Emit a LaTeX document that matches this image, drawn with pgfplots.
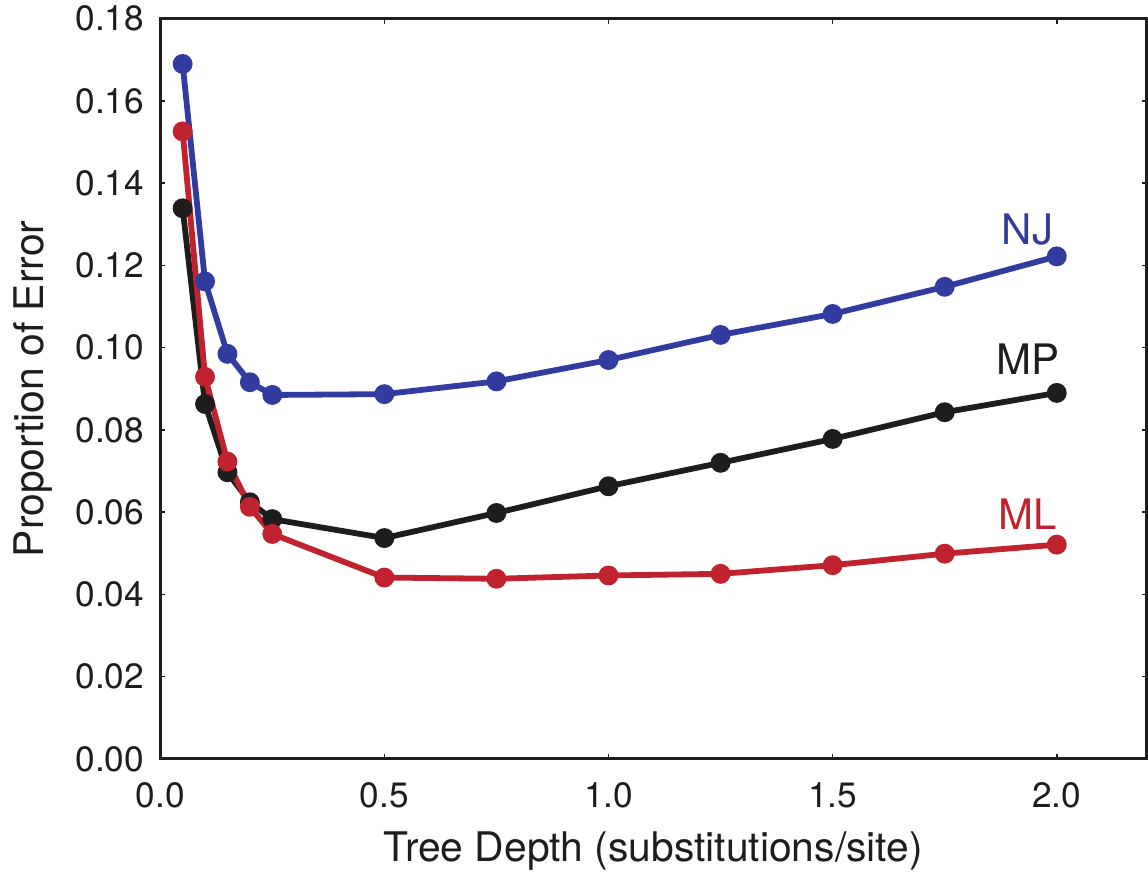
\documentclass[border=0pt]{standalone}
\usepackage{fontspec}
\setmainfont{TeX Gyre Heros}
\usepackage{pgfplots}
\pgfplotsset{compat=1.18}
\definecolor{njblue}{RGB}{50,60,160}
\definecolor{mlred}{RGB}{192,35,45}
\definecolor{mpblack}{RGB}{30,28,28}

\begin{document}
\begin{tikzpicture}
\begin{axis}[
    scale only axis,
    width=246.5pt, height=185pt,
    xmin=0, xmax=2.2, ymin=0, ymax=0.18,
    xtick={0,0.5,1.0,1.5,2.0},
    ytick={0,0.02,...,0.18},
    tick align=inside,
    major tick length=1.2pt,
    tick style={line width=0.4pt, color=mpblack},
    axis line style={line width=0.8pt, color=mpblack},
    /pgf/number format/assume math mode=true,
    xticklabel style={/pgf/number format/fixed, /pgf/number format/fixed zerofill, /pgf/number format/precision=1, yshift=-2.5pt},
    yticklabel style={/pgf/number format/fixed, /pgf/number format/fixed zerofill, /pgf/number format/precision=2, xshift=-0.5pt, inner ysep=1.5pt},
    scaled y ticks=false,
    ticklabel style={font=\fontsize{8.8}{10}\selectfont, text=mpblack},
    xlabel={Tree Depth (substitutions/site)},
    ylabel={Proportion of Error},
    label style={font=\fontsize{10.2}{12}\selectfont, text=mpblack},
    xlabel style={yshift=-1.2pt, inner ysep=1pt},
    ylabel style={yshift=-1pt},
    every axis plot/.append style={line width=1.45pt, mark=*, mark size=1.75pt},
    clip=false,
]
\addplot[color=mpblack, mark options={fill=mpblack}] coordinates {
(0.05,0.1339) (0.10,0.0863) (0.15,0.0697) (0.20,0.0624) (0.25,0.0583)
(0.50,0.0537) (0.75,0.0598) (1.00,0.0663) (1.25,0.0720) (1.50,0.0778)
(1.75,0.0843) (2.00,0.0890)};
\addplot[color=njblue, mark options={fill=njblue}] coordinates {
(0.05,0.1690) (0.10,0.1161) (0.15,0.0985) (0.20,0.0916) (0.25,0.0885)
(0.50,0.0887) (0.75,0.0918) (1.00,0.0970) (1.25,0.1031) (1.50,0.1082)
(1.75,0.1148) (2.00,0.1222)};
\addplot[color=mlred, mark options={fill=mlred}] coordinates {
(0.05,0.1526) (0.10,0.0929) (0.15,0.0723) (0.20,0.0613) (0.25,0.0547)
(0.50,0.0441) (0.75,0.0438) (1.00,0.0446) (1.25,0.0450) (1.50,0.0471)
(1.75,0.0499) (2.00,0.0521)};
\node[text=njblue, font=\fontsize{10.5}{12}\selectfont] at (axis cs:1.935,0.1288) {NJ};
\node[text=mpblack, font=\fontsize{10.5}{12}\selectfont] at (axis cs:1.935,0.0973) {MP};
\node[text=mlred, font=\fontsize{10.5}{12}\selectfont] at (axis cs:1.935,0.0595) {ML};
\end{axis}
\end{tikzpicture}
\end{document}
